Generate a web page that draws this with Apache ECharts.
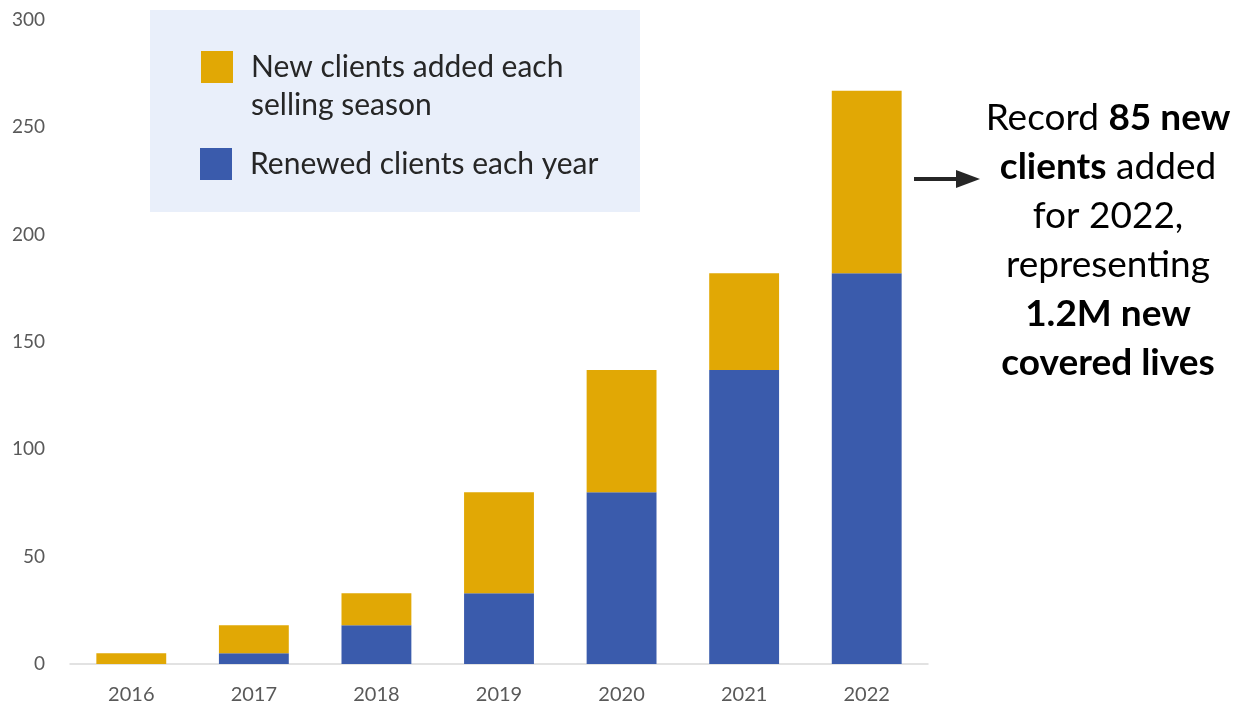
<!DOCTYPE html>
<html>
<head>
<meta charset="utf-8">
<script src="https://cdn.jsdelivr.net/npm/echarts@6/dist/echarts.min.js"></script>
<style>html,body{margin:0;padding:0;background:#fff}#c{width:1235px;height:707px}</style>
</head>
<body>
<div id="c"></div>
<script>
const years = ['2016','2017','2018','2019','2020','2021','2022'];
const renewedClients = [0, 5, 18, 33, 80, 137, 182];
const newClients = [5, 13, 15, 47, 57, 45, 85];
const yTicks = [0, 50, 100, 150, 200, 250, 300];
const seriesNames = ['New clients added each\nselling season', 'Renewed clients each year'];

const FONT = 'Lato, "Open Sans", sans-serif';
const chart = echarts.init(document.getElementById('c'));
chart.setOption({
  animation: false,
  textStyle: {fontFamily: FONT},
  grid: {left: 70, right: 307, top: 20, bottom: 43},
  xAxis: {
    type: 'category', data: years,
    axisLine: {lineStyle: {color: '#D9D9D9', width: 1.5}},
    axisTick: {show: false},
    axisLabel: {color: '#595959', fontSize: 20, margin: 21, fontFamily: FONT}
  },
  yAxis: {
    type: 'value', min: yTicks[0], max: yTicks[yTicks.length-1], interval: 50,
    axisLine: {show: false}, axisTick: {show: false}, splitLine: {show: false},
    axisLabel: {color: '#595959', fontSize: 19, margin: 25, fontFamily: FONT}
  },
  legend: [
    {
      data: [seriesNames[0]],
      formatter: name => ' \n' + name,
      left: 201, top: 10, orient: 'vertical',
      itemWidth: 32, itemHeight: 32, itemGap: 0, icon: 'rect', padding: 0,
      textStyle: {fontSize: 30, color: '#262626', lineHeight: 38, padding: [0, 0, 0, 13], fontFamily: FONT}
    },
    {
      data: [seriesNames[1]],
      left: 200, top: 145, orient: 'vertical',
      itemWidth: 32, itemHeight: 32, itemGap: 0, icon: 'rect', padding: 0,
      textStyle: {fontSize: 30, color: '#262626', lineHeight: 38, padding: [0, 0, 0, 13], fontFamily: FONT}
    }
  ],
  graphic: [
    {type: 'rect', left: 150, top: 10, z: -1, shape: {width: 490, height: 202}, style: {fill: '#E9EFFA'}},
    {type: 'line', shape: {x1: 914, y1: 179, x2: 958, y2: 179}, style: {stroke: '#262626', lineWidth: 4}},
    {type: 'polygon', shape: {points: [[956, 170], [980, 179], [956, 188]]}, style: {fill: '#262626'}},
    {
      type: 'text', x: 1108, y: 94,
      style: {
        text: '{n|Record }{b|85 new}\n{b|clients}{n| added}\n{n|for 2022,}\n{n|representing}\n{b|1.2M new}\n{b|covered lives}',
        align: 'center', verticalAlign: 'top',
        rich: {
          n: {fontSize: 37, fontFamily: FONT, color: '#262626', lineHeight: 49},
          b: {fontSize: 37, fontFamily: FONT, fontWeight: 'bold', color: '#262626', lineHeight: 49}
        }
      }
    }
  ],
  series: [
    {name: seriesNames[1], type: 'bar', stack: 'total', data: renewedClients, barWidth: '57%', itemStyle: {color: '#3A5BAC'}},
    {name: seriesNames[0], type: 'bar', stack: 'total', data: newClients, barWidth: '57%', itemStyle: {color: '#E1A805'}}
  ]
});
</script>
</body>
</html>
